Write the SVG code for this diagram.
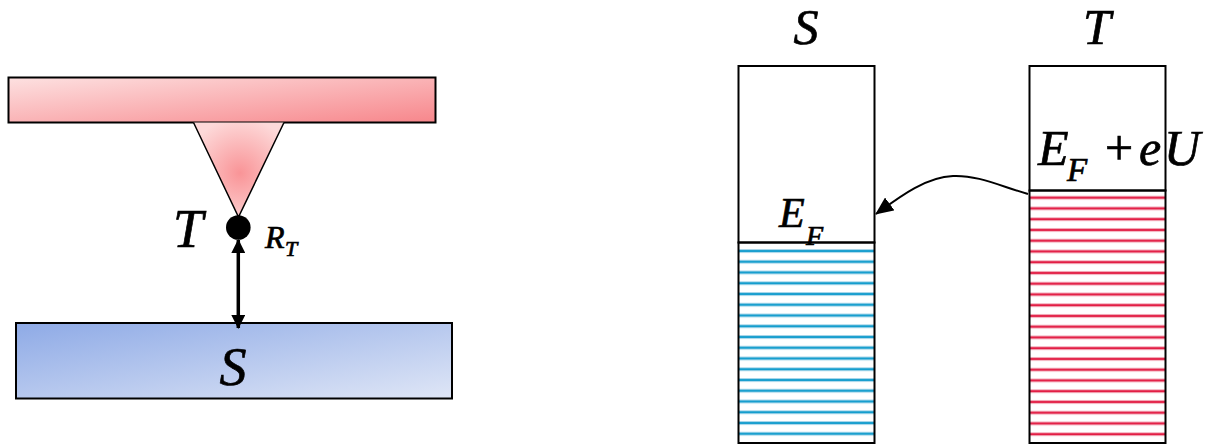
<svg xmlns="http://www.w3.org/2000/svg" width="1208" height="444" viewBox="0 0 1208 444">
  <defs>
    <style>
      .sym { font-style: italic; fill: #000; stroke: #000; stroke-width: 0.7; }
      .up { fill: #000; stroke: #000; stroke-width: 0.7; }
      .edge { stroke: #000; stroke-width: 2; }
      .box { fill: #fff; stroke: #000; stroke-width: 2; }
      .link { fill: none; stroke: #000; }
    </style>
    <linearGradient id="cantileverFill" x1="0" y1="0" x2="1" y2="1">
      <stop offset="0" stop-color="#fde1e1"/>
      <stop offset="1" stop-color="#f7868b"/>
    </linearGradient>
    <radialGradient id="tipFill" gradientUnits="userSpaceOnUse" cx="240" cy="173" r="55">
      <stop offset="0" stop-color="#f99497"/>
      <stop offset="1" stop-color="#fdd9d9"/>
    </radialGradient>
    <linearGradient id="sampleFill" x1="0" y1="0" x2="1" y2="1">
      <stop offset="0" stop-color="#8eaae6"/>
      <stop offset="1" stop-color="#dfe6f6"/>
    </linearGradient>
    <!-- occupied-state stripes, one line every 10.75 px -->
    <pattern id="blueLevels" patternUnits="userSpaceOnUse" x="0" y="249" width="200" height="10.75">
      <rect x="0" y="0" width="200" height="4" fill="#a9d7ea"/>
      <rect x="0" y="1.1" width="200" height="1.8" fill="#0c9acc"/>
    </pattern>
    <pattern id="redLevels" patternUnits="userSpaceOnUse" x="0" y="195.7" width="200" height="10.75">
      <rect x="0" y="0" width="200" height="4" fill="#f3b0bd"/>
      <rect x="0" y="1.1" width="200" height="1.8" fill="#e2173f"/>
    </pattern>
    <marker id="head" markerUnits="userSpaceOnUse" viewBox="0 0 14 14" refX="13" refY="7" markerWidth="14" markerHeight="14" orient="auto-start-reverse">
      <path d="M0,0 L14,7 L0,14 Z" fill="#000"/>
    </marker>
    <marker id="headCurve" markerUnits="userSpaceOnUse" viewBox="0 0 18 16" refX="17" refY="8" markerWidth="18" markerHeight="16" orient="auto">
      <path d="M0,0 L18,8 L0,16 Z" fill="#000"/>
    </marker>
  </defs>

  <g font-family="Liberation Serif, Times New Roman, serif">
  <!-- STM sketch: cantilever, tip and sample -->
  <g id="cantilever">
    <rect x="8.5" y="77.5" width="427" height="45" fill="url(#cantileverFill)" class="edge"/>
  </g>
  <g id="tip">
    <path d="M193.5,122.5 L284,122.5 L238.5,217 Z" fill="url(#tipFill)"/>
    <path d="M193.5,122.5 L238.5,217 L284,122.5" fill="none" stroke="#000" stroke-width="1.5"/>
    <circle cx="238.3" cy="227.5" r="12.3" fill="#000"/>
    <text class="sym" x="173" y="247" font-size="54">T</text>
    <text class="sym" x="265" y="248" font-size="32">R</text>
    <text class="sym" x="285" y="256" font-size="22">T</text>
  </g>
  <g id="sample">
    <rect x="16" y="323" width="436" height="75.5" fill="url(#sampleFill)" class="edge"/>
    <text class="sym" x="233" y="385" font-size="54" text-anchor="middle">S</text>
  </g>

  <!-- energy diagram: sample levels -->
  <g id="sample-levels">
    <text class="sym" x="806" y="44" font-size="50" text-anchor="middle">S</text>
    <rect x="738.5" y="66" width="136" height="176.5" class="box"/>
    <rect x="738.5" y="242.5" width="136" height="200.5" fill="url(#blueLevels)" stroke="#000" stroke-width="2"/>
    <text class="sym" x="779" y="227" font-size="42">E</text>
    <text class="sym" x="806" y="245" font-size="28">F</text>
  </g>

  <!-- energy diagram: tip levels -->
  <g id="tip-levels">
    <text class="sym" x="1097" y="44" font-size="50" text-anchor="middle">T</text>
    <rect x="1029.5" y="66" width="136" height="124.5" class="box"/>
    <rect x="1029.5" y="190.5" width="136" height="252.5" fill="url(#redLevels)" stroke="#000" stroke-width="2"/>
    <text class="sym" x="1038" y="165" font-size="50">E</text>
    <text class="sym" x="1067" y="181" font-size="33">F</text>
    <text class="up" x="1105" y="165" font-size="50">+</text>
    <text class="sym" x="1139" y="165" font-size="50">e</text>
    <text class="sym" x="1164" y="165" font-size="50">U</text>
  </g>
  </g>

  <!-- connectors -->
  <g id="connectors">
    <line x1="238.3" y1="240" x2="238.3" y2="328" class="link" stroke-width="3.5" marker-start="url(#head)" marker-end="url(#head)"/>
    <path d="M1028,194 C1000,186 978,175 953,176 C925,177 898,198 876,214" class="link" stroke-width="2" marker-end="url(#headCurve)"/>
  </g>
</svg>
